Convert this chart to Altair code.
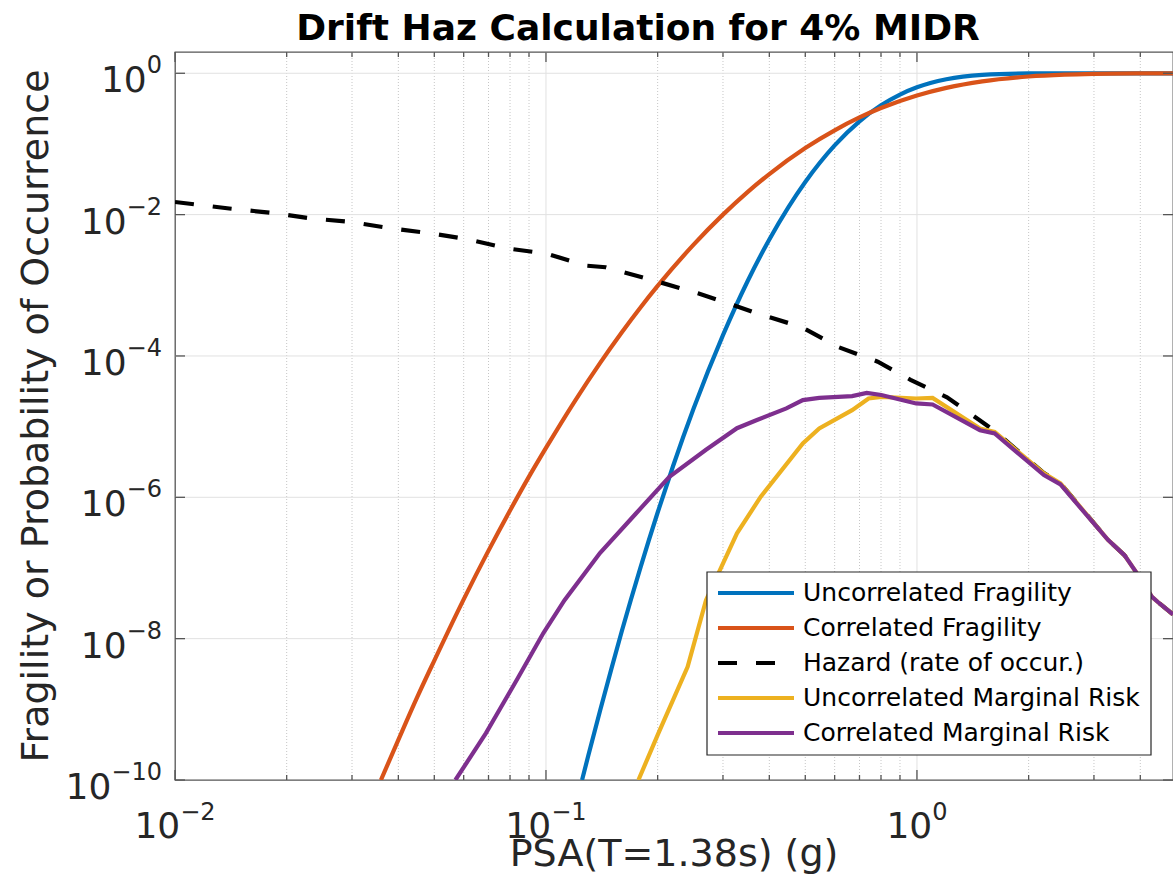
import altair as alt
import pandas as pd

FONT = "DejaVu Sans"
INK = "#262626"
FRAME = "#555555"
W, H = 998, 728

X_DOMAIN = [0.01, 4.9]
Y_DOMAIN = [1e-10, 2.0]

# ---------------- curves ----------------
unc_frag_psa = [0.1251, 0.13, 0.14, 0.15, 0.16, 0.18, 0.20, 0.22, 0.25, 0.30, 0.35,
                0.40, 0.45, 0.50, 0.60, 0.70, 0.80, 0.90, 1.0, 1.2, 1.5, 2.0, 2.5, 3.0, 4.9]
unc_frag_p = [1.0e-10, 2.2e-10, 9.7e-10, 3.7e-9, 1.26e-8, 1.04e-7, 6.1e-7, 2.75e-6, 1.8e-5,
              1.97e-4, 1.16e-3, 4.45e-3, 0.0127, 0.029, 0.0955, 0.209, 0.352, 0.50, 0.633,
              0.823, 0.950, 0.995, 0.9995, 1.0, 1.0]

cor_frag_psa = [0.0359, 0.04, 0.045, 0.05, 0.06, 0.07, 0.08, 0.09, 0.10, 0.12, 0.14, 0.16,
                0.18, 0.20, 0.25, 0.30, 0.35, 0.40, 0.50, 0.60, 0.70, 0.80, 1.0, 1.2, 1.5,
                2.0, 2.5, 3.0, 4.0, 4.9]
cor_frag_p = [1.0e-10, 3.7e-10, 1.5e-9, 4.9e-9, 3.6e-8, 1.76e-7, 6.5e-7, 1.96e-6, 5.0e-6,
              2.36e-5, 8.0e-5, 2.15e-4, 4.9e-4, 9.8e-4, 3.76e-3, 0.0100, 0.021, 0.0375,
              0.0876, 0.156, 0.237, 0.322, 0.485, 0.621, 0.768, 0.900, 0.956, 0.980,
              0.9953, 0.9986]

hazard_psa = [0.01, 0.014, 0.0182, 0.0234, 0.0297, 0.0381, 0.0494, 0.0612, 0.0795, 0.1007,
              0.1277, 0.1448, 0.2009, 0.258, 0.302, 0.371, 0.487, 0.506, 0.611, 0.784,
              0.961, 1.205, 1.479, 1.62, 2.199, 2.437, 3.272, 3.625, 3.917, 4.30, 4.46, 4.9]
hazard_rate = [0.0151, 0.0122, 0.0106, 0.0088, 0.0079, 0.0064, 0.0054, 0.0045, 0.0033, 0.0028,
               0.0019, 0.0018, 0.00112, 7.65e-4, 5.82e-4, 3.99e-4, 2.58e-4, 2.32e-4, 1.35e-4,
               8.3e-5, 4.6e-5, 2.6e-5, 1.22e-5, 8.7e-6, 2.2e-6, 1.58e-6, 2.5e-7, 1.52e-7,
               8.4e-8, 3.9e-8, 3.3e-8, 2.2e-8]

unc_risk_psa = [0.1775, 0.201, 0.2409, 0.270, 0.3272, 0.3793, 0.4924, 0.5453, 0.6687, 0.7406,
                0.8017, 0.995, 1.102, 1.479, 1.62, 2.199, 2.437, 3.272, 3.625, 3.917, 4.30,
                4.46, 4.9]
unc_risk = [1.0e-10, 4.6e-10, 4.0e-9, 3.5e-8, 3.1e-7, 1.02e-6, 5.8e-6, 9.4e-6, 1.71e-5,
            2.5e-5, 2.64e-5, 2.5e-5, 2.55e-5, 9.4e-6, 8.4e-6, 2.18e-6, 1.57e-6, 2.5e-7,
            1.52e-7, 8.4e-8, 3.9e-8, 3.3e-8, 2.2e-8]

cor_risk_psa = [0.057, 0.0689, 0.0834, 0.0984, 0.1122, 0.1398, 0.1753, 0.2151, 0.270, 0.3272,
                0.3704, 0.4446, 0.4924, 0.5453, 0.6687, 0.7322, 0.8017, 0.995, 1.102, 1.479,
                1.62, 2.199, 2.437, 3.272, 3.625, 3.917, 4.30, 4.46, 4.9]
cor_risk = [1.0e-10, 4.6e-10, 2.6e-9, 1.2e-8, 3.5e-8, 1.63e-7, 6.0e-7, 1.95e-6, 4.7e-6,
            9.5e-6, 1.24e-5, 1.81e-5, 2.37e-5, 2.55e-5, 2.70e-5, 3.0e-5, 2.8e-5, 2.13e-5,
            2.06e-5, 8.9e-6, 8.0e-6, 2.06e-6, 1.52e-6, 2.5e-7, 1.52e-7, 8.4e-8, 3.9e-8,
            3.3e-8, 2.2e-8]

series_names = ["Uncorrelated Fragility", "Correlated Fragility", "Hazard (rate of occur.)",
                "Uncorrelated Marginal Risk", "Correlated Marginal Risk"]
series_colors = ["#0072BD", "#D95319", "#000000", "#EDB120", "#7E2F8E"]
series_dash = [None, None, [19, 19], None, None]

# ---------------- ticks ----------------
x_major = [0.01, 0.1, 1.0]
x_major_exp = ["−2", "−1", "0"]
x_minor = [0.02, 0.03, 0.04, 0.05, 0.06, 0.07, 0.08, 0.09,
           0.2, 0.3, 0.4, 0.5, 0.6, 0.7, 0.8, 0.9, 2.0, 3.0, 4.0]
y_major = [1.0, 1e-2, 1e-4, 1e-6, 1e-8, 1e-10]
y_major_exp = ["0", "−2", "−4", "−6", "−8", "−10"]

title_text = "Drift Haz Calculation for 4% MIDR"
x_title = "PSA(T=1.38s) (g)"
y_title = "Fragility or Probability of Occurrence"

xscale = alt.Scale(type="log", domain=X_DOMAIN, nice=False)
yscale = alt.Scale(type="log", domain=Y_DOMAIN, nice=False)


def X(f):
    return alt.X(f"{f}:Q", scale=xscale, axis=None)


def Y(f):
    return alt.Y(f"{f}:Q", scale=yscale, axis=None)


def label(text, **kw):
    """A single free-standing text placed in pixels relative to the plot area."""
    x, y = kw.pop("x"), kw.pop("y")
    return alt.Chart(pd.DataFrame({"t": [text]})).mark_text(font=FONT, **kw).encode(
        x=alt.value(x), y=alt.value(y), text="t:N")


one = pd.DataFrame({"k": [0]})
layers = []

# grid
layers.append(alt.Chart(pd.DataFrame({"x": x_minor})).mark_rule(
    color="#c6c6c6", strokeWidth=1, strokeDash=[1, 2]).encode(
    x=X("x"), y=alt.value(0), y2=alt.value(H)))
layers.append(alt.Chart(pd.DataFrame({"x": x_major[1:]})).mark_rule(
    color="#e1e1e1", strokeWidth=1).encode(x=X("x"), y=alt.value(0), y2=alt.value(H)))
layers.append(alt.Chart(pd.DataFrame({"y": y_major[:-1]})).mark_rule(
    color="#e1e1e1", strokeWidth=1).encode(y=Y("y"), x=alt.value(0), x2=alt.value(W)))

# curves, in drawing order
curve_data = [
    (unc_frag_psa, unc_frag_p, "monotone"),
    (cor_frag_psa, cor_frag_p, "monotone"),
    (hazard_psa, hazard_rate, "linear"),
    (unc_risk_psa, unc_risk, "linear"),
    (cor_risk_psa, cor_risk, "linear"),
]
for (xs_, ys_, interp), color, dash in zip(curve_data, series_colors, series_dash):
    kw = dict(color=color, strokeWidth=4.2, clip=True, interpolate=interp)
    if dash:
        kw["strokeDash"] = dash
    df = pd.DataFrame({"psa": xs_, "p": ys_})
    layers.append(alt.Chart(df).mark_line(**kw).encode(x=X("psa"), y=Y("p")))

# inward ticks on all four sides
tick_kw = dict(color=FRAME, strokeWidth=1.3)
xmaj = alt.Chart(pd.DataFrame({"x": x_major}))
xmin = alt.Chart(pd.DataFrame({"x": x_minor}))
ymaj = alt.Chart(pd.DataFrame({"y": y_major}))
layers += [
    xmaj.mark_rule(**tick_kw).encode(x=X("x"), y=alt.value(H), y2=alt.value(H - 10)),
    xmin.mark_rule(**tick_kw).encode(x=X("x"), y=alt.value(H), y2=alt.value(H - 5)),
    xmaj.mark_rule(**tick_kw).encode(x=X("x"), y=alt.value(0), y2=alt.value(10)),
    xmin.mark_rule(**tick_kw).encode(x=X("x"), y=alt.value(0), y2=alt.value(5)),
    ymaj.mark_rule(**tick_kw).encode(y=Y("y"), x=alt.value(0), x2=alt.value(10)),
    ymaj.mark_rule(**tick_kw).encode(y=Y("y"), x=alt.value(W), x2=alt.value(W - 10)),
]

# tick labels written as 10 with a raised exponent
BASE, EXP = 36, 24
exp_width = {1: 15.3, 2: 35.4, 3: 50.6}   # advance of the exponent text at EXP px

ylab = alt.Chart(pd.DataFrame({"y": y_major, "e": y_major_exp}))
layers.append(ylab.mark_text(font=FONT, fontSize=EXP, color=INK, align="right",
                             baseline="alphabetic", dy=0).encode(
    y=Y("y"), x=alt.value(-13), text="e:N"))
for n, w in exp_width.items():
    layers.append(ylab.transform_filter(f"length(datum.e) == {n}").mark_text(
        font=FONT, fontSize=BASE, color=INK, align="right", baseline="alphabetic", dy=19).encode(
        y=Y("y"), x=alt.value(-13 - w), text=alt.value("10")))

xlab = alt.Chart(pd.DataFrame({"x": x_major, "e": x_major_exp}))
for n in (1, 2):
    split = (BASE * 1.272 - exp_width[n]) / 2
    sub = xlab.transform_filter(f"length(datum.e) == {n}")
    layers.append(sub.mark_text(font=FONT, fontSize=BASE, color=INK, align="right",
                                baseline="alphabetic", dx=split).encode(
        x=X("x"), y=alt.value(H + 58), text=alt.value("10")))
    layers.append(sub.mark_text(font=FONT, fontSize=EXP, color=INK, align="left",
                                baseline="alphabetic", dx=split).encode(
        x=X("x"), y=alt.value(H + 40), text="e:N"))

# chart title and axis titles
layers.append(label(title_text, x=463, y=-12, fontSize=36, fontWeight="bold",
                    color="#000000", align="center", baseline="alphabetic"))
layers.append(label(x_title, x=W / 2, y=H + 86, fontSize=38, color=INK,
                    align="center", baseline="alphabetic"))
layers.append(label(y_title, x=-127, y=H / 2, fontSize=38, color=INK,
                    align="center", baseline="alphabetic", angle=270))

# legend
layers.append(alt.Chart(one).mark_rect(fill="white", stroke=INK, strokeWidth=1.2).encode(
    x=alt.value(532), x2=alt.value(976), y=alt.value(520), y2=alt.value(703)))
for i, (name, color, dash) in enumerate(zip(series_names, series_colors, series_dash)):
    row_y = 541 + 35 * i
    kw = dict(color=color, strokeWidth=4.2)
    if dash:
        kw["strokeDash"] = dash
    layers.append(alt.Chart(one).mark_rule(**kw).encode(
        x=alt.value(543), x2=alt.value(619), y=alt.value(row_y)))
    layers.append(label(name, x=628, y=row_y, fontSize=25, color="#000000",
                        align="left", baseline="middle"))

chart = alt.layer(*layers).properties(
    width=W,
    height=H,
    padding={"left": 175, "top": 52, "right": 0, "bottom": 100},
    autosize=alt.AutoSizeParams(type="none"),
    background="white",
).configure_view(stroke=FRAME, strokeWidth=1.3)

chart.save("out.html", embed_options={"renderer": "svg", "actions": False})
